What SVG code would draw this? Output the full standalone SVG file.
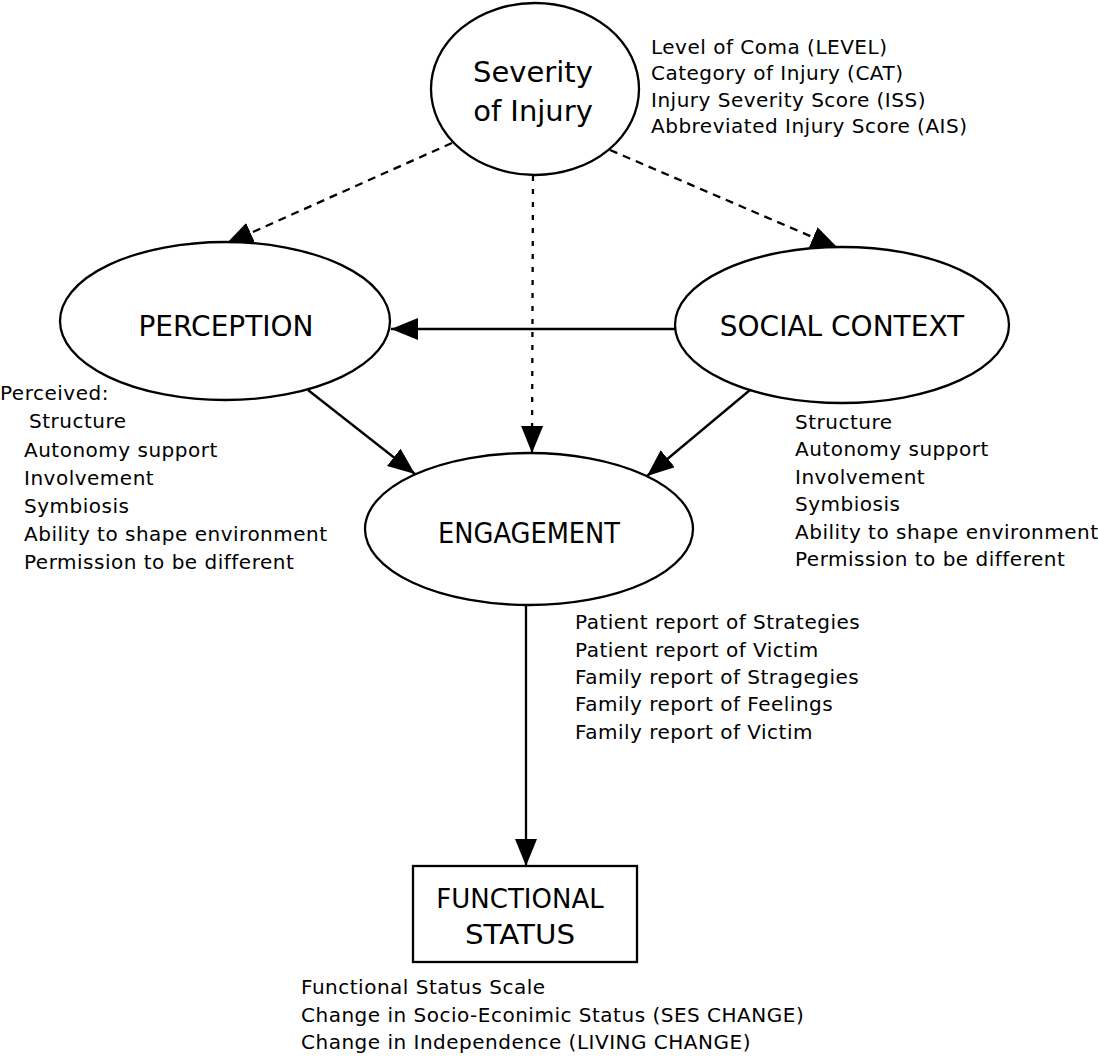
<svg xmlns="http://www.w3.org/2000/svg" width="1098" height="1056" viewBox="0 0 1098 1056">
<style>
.node{fill:#fff;stroke:#000;stroke-width:2.3}
.lbl{font-family:"DejaVu Sans",sans-serif;font-size:28px;fill:#000;text-anchor:middle}
.lst{font-family:"DejaVu Sans",sans-serif;font-size:20px;letter-spacing:0.5px;fill:#000}
.c{stroke:#000;stroke-width:2.3;fill:none}
.d{stroke-dasharray:8 6}
.v{stroke-dasharray:5 8}
</style>
<defs>
<marker id="ah" markerUnits="userSpaceOnUse" markerWidth="28" markerHeight="24" refX="27" refY="11" orient="auto">
<path d="M0,0 L27,11 L0,22 Z" fill="#000"/>
</marker>
</defs>
<rect width="1098" height="1056" fill="#fff"/>
<g id="connectors">
<path class="c d" d="M452,143 L226,244" marker-end="url(#ah)"/>
<path class="c v" d="M533,176 L532,453" marker-end="url(#ah)"/>
<path class="c d" d="M610,150 L838,248" marker-end="url(#ah)"/>
<path class="c" d="M675,329 L391,329" marker-end="url(#ah)"/>
<path class="c" d="M308,390 L415,474" marker-end="url(#ah)"/>
<path class="c" d="M750,390 L647,476" marker-end="url(#ah)"/>
<path class="c" d="M526,605 L526,866" marker-end="url(#ah)"/>
</g>
<g id="severity">
<ellipse class="node" cx="535" cy="89" rx="104" ry="86"/>
<text class="lbl" x="533" y="82" style="font-size:29px">Severity</text>
<text class="lbl" x="533" y="121" style="font-size:29px">of Injury</text>
<text class="lst" x="651" y="54">Level of Coma (LEVEL)</text>
<text class="lst" x="651" y="80">Category of Injury (CAT)</text>
<text class="lst" x="651" y="107">Injury Severity Score (ISS)</text>
<text class="lst" x="651" y="133">Abbreviated Injury Score (AIS)</text>
</g>
<g id="perception">
<ellipse class="node" cx="225" cy="321" rx="165" ry="79"/>
<text class="lbl" x="226" y="336">PERCEPTION</text>
<text class="lst" x="0" y="400">Perceived:</text>
<text class="lst" x="29" y="428">Structure</text>
<text class="lst" x="24" y="457">Autonomy support</text>
<text class="lst" x="24" y="485">Involvement</text>
<text class="lst" x="24" y="513">Symbiosis</text>
<text class="lst" x="24" y="541">Ability to shape environment</text>
<text class="lst" x="24" y="569">Permission to be different</text>
</g>
<g id="social-context">
<ellipse class="node" cx="842" cy="325" rx="167" ry="78"/>
<text class="lbl" x="842" y="336">SOCIAL CONTEXT</text>
<text class="lst" x="795" y="429">Structure</text>
<text class="lst" x="795" y="456">Autonomy support</text>
<text class="lst" x="795" y="484">Involvement</text>
<text class="lst" x="795" y="511">Symbiosis</text>
<text class="lst" x="795" y="539">Ability to shape environment</text>
<text class="lst" x="795" y="566">Permission to be different</text>
</g>
<g id="engagement">
<ellipse class="node" cx="529" cy="529" rx="164" ry="76"/>
<text class="lbl" x="529" y="543" textLength="182" lengthAdjust="spacingAndGlyphs">ENGAGEMENT</text>
<text class="lst" x="575" y="629">Patient report of Strategies</text>
<text class="lst" x="575" y="657">Patient report of Victim</text>
<text class="lst" x="575" y="684">Family report of Stragegies</text>
<text class="lst" x="575" y="711">Family report of Feelings</text>
<text class="lst" x="575" y="739">Family report of Victim</text>
</g>
<g id="functional-status">
<rect class="node" x="413" y="866" width="224" height="96"/>
<text class="lbl" x="520" y="908" style="font-size:26px">FUNCTIONAL</text>
<text class="lbl" x="520" y="944" style="font-size:26px" textLength="110" lengthAdjust="spacingAndGlyphs">STATUS</text>
<text class="lst" x="301" y="994">Functional Status Scale</text>
<text class="lst" x="301" y="1022">Change in Socio-Econimic Status (SES CHANGE)</text>
<text class="lst" x="301" y="1049">Change in Independence (LIVING CHANGE)</text>
</g>
</svg>
